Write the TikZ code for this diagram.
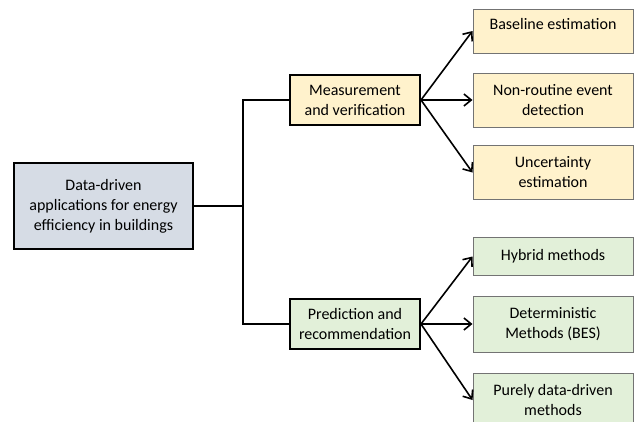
\documentclass[tikz,border=0pt]{standalone}
\usepackage{fontspec}
\setmainfont{Carlito}
\usetikzlibrary{arrows.meta}
\definecolor{rootfill}{HTML}{D6DCE5}
\definecolor{mvfill}{HTML}{FFF2CC}
\definecolor{prfill}{HTML}{E2F0D9}
\begin{document}
\begin{tikzpicture}[x=0.75pt, y=-0.75pt,
    box/.style={draw, align=center, inner sep=2pt, font=\fontsize{12}{15}\selectfont},
    mainbox/.style={box, line width=1.5pt},
    subbox/.style={box, draw=black!55, line width=0.75pt, minimum width=120pt},
    link/.style={line width=1.5pt},
    arr/.style={line width=1.2pt, -{Straight Barb[length=5.5pt, width=9pt]}}]
    \useasboundingbox (0,0) rectangle (638,421);

    \node[mainbox, fill=rootfill, minimum width=134pt, minimum height=64.5pt] (root) at (103.5,206) {Data-driven\\applications for energy\\efficiency in buildings};

    \node[mainbox, fill=mvfill, minimum width=97.5pt, minimum height=37.5pt] (mv) at (355,100) {Measurement\\and verification};
    \node[mainbox, fill=prfill, minimum width=97.5pt, minimum height=37.5pt] (pr) at (355,324) {Prediction and\\recommendation};

    \node[subbox, fill=mvfill, minimum height=33pt, text depth=10.5pt] (base) at (553,31) {Baseline estimation};
    \node[subbox, fill=mvfill, minimum height=40.5pt] (nre) at (553,100) {Non-routine event\\detection};
    \node[subbox, fill=mvfill, minimum height=40pt] (unc) at (553,172.5) {Uncertainty\\estimation};

    \node[subbox, fill=prfill, minimum height=29pt] (hyb) at (553,256.5) {Hybrid methods};
    \node[subbox, fill=prfill, minimum height=42pt] (det) at (553,324) {Deterministic\\Methods (BES)};
    \node[subbox, fill=prfill, minimum height=40.5pt] (pdd) at (553,400) {Purely data-driven\\methods};

    \coordinate (split) at (243,206);
    \draw[link] (root.east) -- (split);
    \draw[link] (mv.west) -| (split) |- (pr.west);

    \draw[arr] (mv.east) -- (base.west);
    \draw[arr] (mv.east) -- (nre.west);
    \draw[arr] (mv.east) -- (unc.west);
    \draw[arr] (pr.east) -- (hyb.west);
    \draw[arr] (pr.east) -- (det.west);
    \draw[arr] (pr.east) -- (pdd.west);
\end{tikzpicture}
\end{document}
